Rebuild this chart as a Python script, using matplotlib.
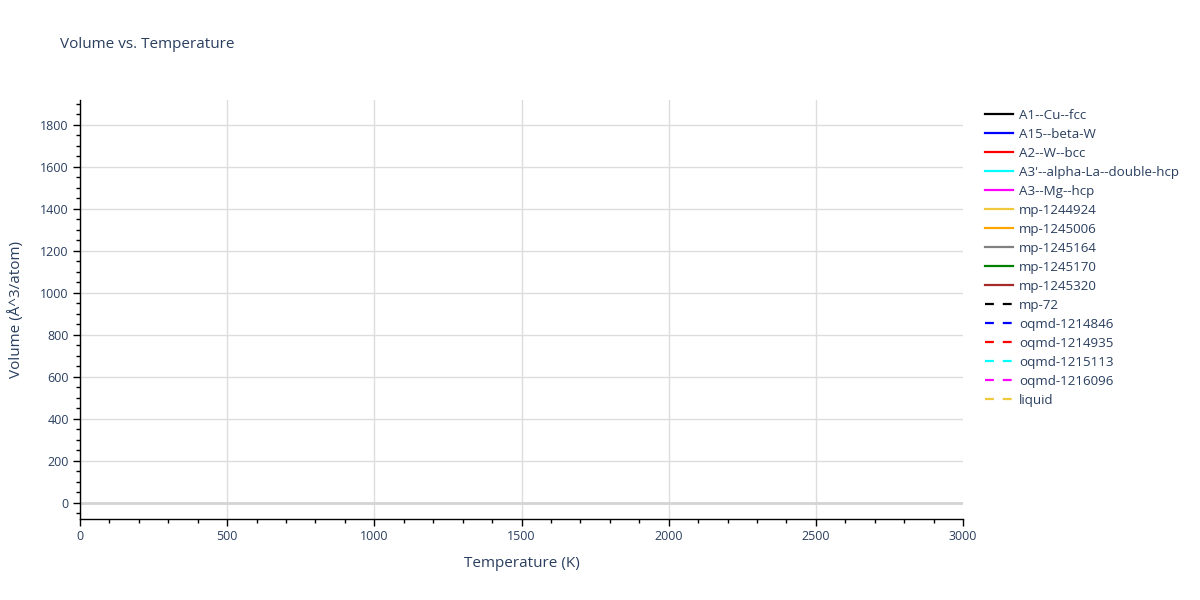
import matplotlib
matplotlib.use("Agg")
import matplotlib.pyplot as plt
from matplotlib.ticker import MultipleLocator

plt.rcParams['font.family'] = ['Open Sans', 'DejaVu Sans']

TXT = '#2a3f5f'

# phases shown in the legend; no curve is visible in the plotted range
phases = ['A1--Cu--fcc', 'A15--beta-W', 'A2--W--bcc', "A3'--alpha-La--double-hcp",
          'A3--Mg--hcp', 'mp-1244924', 'mp-1245006', 'mp-1245164', 'mp-1245170',
          'mp-1245320', 'mp-72', 'oqmd-1214846', 'oqmd-1214935', 'oqmd-1215113',
          'oqmd-1216096', 'liquid']
colors = ['black', 'blue', 'red', 'cyan', 'magenta', '#f0c83c', 'orange', 'gray',
          'green', 'brown', 'black', 'blue', 'red', 'cyan', 'magenta', '#f0c83c']
dashed = [False] * 10 + [True] * 6
temps = {p: [] for p in phases}
volumes = {p: [] for p in phases}

fig = plt.figure(figsize=(12, 6), dpi=100)
ax = fig.add_axes([80 / 1200, 1 - 519 / 600, 883 / 1200, 419 / 600])

for p, c, d in zip(phases, colors, dashed):
    ax.plot(temps[p], volumes[p], color=c, lw=1.6,
            ls=(0, (4, 4)) if d else '-', label=p)

ax.set_xlim(0, 3000)
ax.set_ylim(-77, 1918)
ax.xaxis.set_major_locator(MultipleLocator(500))
ax.xaxis.set_minor_locator(MultipleLocator(100))
ax.yaxis.set_major_locator(MultipleLocator(200))
ax.yaxis.set_minor_locator(MultipleLocator(50))
ax.grid(True, which='major', color='#dddddd', lw=1)
ax.axhline(0, color='#d4d4d4', lw=2, zorder=1)
ax.set_axisbelow(True)

for s in ['top', 'right']:
    ax.spines[s].set_visible(False)
for s in ['left', 'bottom']:
    ax.spines[s].set_color('black')
    ax.spines[s].set_linewidth(1)

ax.tick_params(which='major', direction='out', length=5, width=1, color='black',
               labelsize=9, labelcolor=TXT, pad=3)
ax.tick_params(which='minor', direction='out', length=3, width=1, color='black')

ax.set_xlabel('Temperature (K)', fontsize=11, color=TXT, labelpad=9)
ax.set_ylabel('Volume (Å^3/atom)', fontsize=11, color=TXT, labelpad=12)
fig.text(60 / 1200, 1 - 45 / 600, 'Volume vs. Temperature', fontsize=11,
         color=TXT, va='center', ha='left')

leg = ax.legend(loc='upper left', bbox_to_anchor=(985 / 1200, 1 - 109 / 600),
                bbox_transform=fig.transFigure, frameon=False, fontsize=9.6,
                handlelength=2.1, handletextpad=0.45, labelspacing=0.45,
                borderaxespad=0, borderpad=0)
for t in leg.get_texts():
    t.set_color(TXT)

# no vertical grid line on the right edge
fig.canvas.draw()
for tick in ax.xaxis.get_major_ticks():
    if tick.get_loc() >= 3000:
        tick.gridline.set_visible(False)

fig.savefig('out.png', dpi=100)
